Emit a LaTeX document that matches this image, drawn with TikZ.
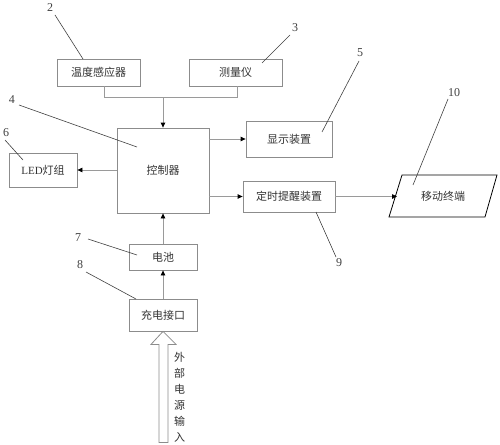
\documentclass[tikz,border=0pt]{standalone}
\usepackage{fontspec}
\setmainfont{Liberation Serif}
\newfontfamily\cjk{Noto Sans CJK SC}
\usetikzlibrary{arrows.meta,calc}
\definecolor{boxc}{HTML}{8C8C8C}
\definecolor{connc}{HTML}{9A9A9A}
\definecolor{leadc}{HTML}{404040}
\definecolor{txtc}{HTML}{333333}
\tikzset{
  blk/.style={draw=boxc, line width=0.8pt, inner sep=0pt, text=txtc, font=\cjk\fontsize{11}{12}\selectfont},
  conn/.style={draw=connc, line width=0.8pt},
  arr/.style={conn, -{Triangle[length=5pt,width=4.5pt]}, arrows={[color=black]}},
  lead/.style={draw=leadc, line width=0.6pt},
  num/.style={inner sep=0pt, text=leadc, font=\fontsize{12}{12}\selectfont}
}
\begin{document}
\begin{tikzpicture}[x=1pt,y=-1pt]
\useasboundingbox (0,0) rectangle (500,444);
% boxes
\node[blk, minimum width=83, minimum height=27] (temp) at (98.5,72.5) {温度感应器};
\node[blk, minimum width=93, minimum height=27] (meas) at (235.5,72.5) {测量仪};
\node[blk, minimum width=92, minimum height=85] (ctrl) at (163,170.5) {控制器};
\node[blk, minimum width=68, minimum height=34] (led) at (43,170) {{\rmfamily LED}灯组};
\node[blk, minimum width=86, minimum height=36] (disp) at (289,139) {显示装置};
\node[blk, minimum width=92, minimum height=31] (timer) at (289,196.5) {定时提醒装置};
\node[blk, minimum width=68, minimum height=26] (bat) at (163,257) {电池};
\node[blk, minimum width=68, minimum height=32] (chg) at (163,315) {充电接口};
% mobile terminal parallelogram
\coordinate (m1) at (402,175);
\coordinate (m2) at (497,175);
\coordinate (m3) at (485,217);
\coordinate (m4) at (389,217);
\draw[draw=black, line width=0.8pt] (m1) -- (m2) -- (m3) -- (m4) -- cycle;
\node[inner sep=0pt, text=txtc, font=\cjk\fontsize{11}{12}\selectfont] (mob) at (443,196) {移动终端};
\coordinate (mobin) at (397,196.5);
% connectors
\coordinate (j) at (163,97);
\draw[conn] ([xshift=5.5pt]temp.south) |- (j);
\draw[conn] ([xshift=1.5pt]meas.south) |- (j);
\draw[arr] (j) -- (ctrl.north);
\draw[arr] (ctrl.east |- disp.west) -- (disp.west);
\draw[arr] (ctrl.east |- timer.west) -- (timer.west);
\draw[arr] (ctrl.west |- led.east) -- (led.east);
\draw[arr] (bat.north) -- (ctrl.south);
\draw[arr] (chg.north) -- (bat.south);
\draw[arr] (timer.east) -- (mobin);
% big hollow input arrow
\draw[draw=boxc, line width=0.8pt] (chg.south) -- ++(13,13) -- ++(-8,0) -- ++(0,98) -- ++(-9,0) -- ++(0,-98) -- ++(-8,0) -- cycle;
\node[inner sep=0pt, text=txtc, font=\cjk\fontsize{11}{16}\selectfont, align=center] (ext) at (179.5,397.5) {外\\部\\电\\源\\输\\入};
% leader labels
\node[num] (n2) at (50,8) {2};
\draw[lead] (55,15) -- (83,59);
\node[num] (n3) at (295,28) {3};
\draw[lead] (290,35) -- (262,63);
\node[num] (n4) at (12,100) {4};
\draw[lead] (19,105) -- (137,147);
\node[num] (n5) at (360,53) {5};
\draw[lead] (359,61) -- (322,132);
\node[num] (n6) at (6,133) {6};
\draw[lead] (5,140) -- (23,160);
\node[num] (n7) at (78,238) {7};
\draw[lead] (88,239) -- (137,255);
\node[num] (n8) at (80,265) {8};
\draw[lead] (86,272) -- (136,299);
\node[num] (n9) at (339,263) {9};
\draw[lead] (316,212) -- (336,257);
\node[num] (n10) at (454,93) {10};
\draw[lead] (448,99) -- (413,185);
\end{tikzpicture}
\end{document}
